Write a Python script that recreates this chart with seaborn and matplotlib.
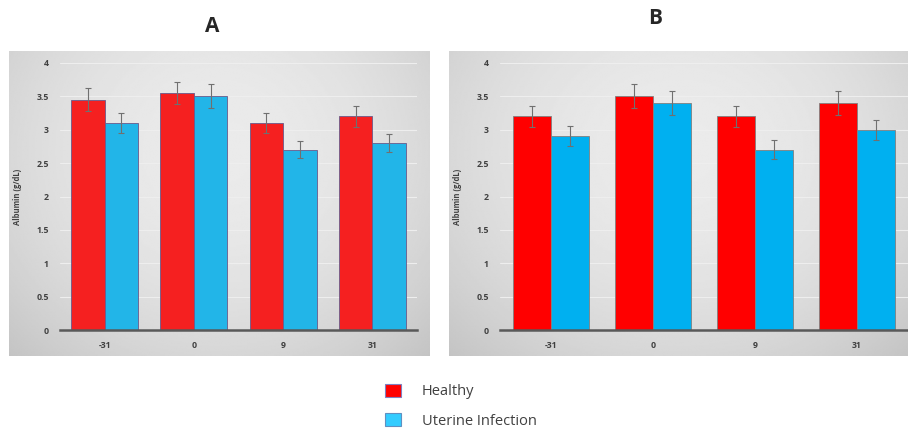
import pandas as pd
import matplotlib.pyplot as plt
import numpy as np
import seaborn as sns
from matplotlib.patches import Patch

days = ['-31', '0', '9', '31']
groups = ['Healthy', 'Uterine Infection']

# panel A
a_healthy = [3.45, 3.55, 3.1, 3.2]
a_uterine = [3.1, 3.5, 2.7, 2.8]
a_healthy_err = [0.17, 0.17, 0.15, 0.16]
a_uterine_err = [0.15, 0.18, 0.13, 0.14]

# panel B
b_healthy = [3.2, 3.5, 3.2, 3.4]
b_uterine = [2.9, 3.4, 2.7, 3.0]
b_healthy_err = [0.16, 0.18, 0.16, 0.18]
b_uterine_err = [0.15, 0.18, 0.14, 0.15]

W, H = 908, 430


def frac(x0, y0, x1, y1):
    # pixel box (top-left origin) -> figure fraction
    return [x0 / W, 1 - y1 / H, (x1 - x0) / W, (y1 - y0) / H]


def gradient_bg(fig, box):
    bg = fig.add_axes(frac(*box), zorder=0)
    yy, xx = np.mgrid[-1:1:200j, -1:1:300j]
    r = np.sqrt((xx * 0.9) ** 2 + (yy * 0.7) ** 2)
    # yy = -1 is the top row of the image
    img = 0.915 - 0.09 * r ** 2 - 0.03 * yy
    bg.imshow(img, cmap='gray', vmin=0, vmax=1, aspect='auto', extent=[0, 1, 0, 1])
    bg.set_axis_off()


def panel(fig, box, healthy, uterine, h_err, u_err, colors, edge):
    df = pd.DataFrame({
        'day': days * 2,
        'group': [groups[0]] * 4 + [groups[1]] * 4,
        'value': healthy + uterine,
    })
    ax = fig.add_axes(frac(*box), zorder=1)
    ax.patch.set_alpha(0)
    ax.yaxis.grid(True, color='#eeeeee', linewidth=0.8)
    ax.set_axisbelow(True)
    sns.barplot(data=df, x='day', y='value', hue='group', order=days,
                hue_order=groups, palette=colors, width=0.75, errorbar=None,
                edgecolor=edge, linewidth=0.6, saturation=1, legend=False, ax=ax)
    for cont, errs in zip(ax.containers, [h_err, u_err]):
        xs = [b.get_x() + b.get_width() / 2 for b in cont]
        ys = [b.get_height() for b in cont]
        ax.errorbar(xs, ys, yerr=errs, fmt='none', ecolor='#707070',
                    elinewidth=0.8, capsize=2.5, capthick=0.8)
    ax.set_ylim(0, 4)
    ax.set_xlim(-0.5, 3.5)
    ax.set_yticks(np.arange(0, 4.01, 0.5))
    ax.set_yticklabels(['0', '0.5', '1', '1.5', '2', '2.5', '3', '3.5', '4'])
    ax.tick_params(length=0, labelsize=6.3, labelcolor='#404040', pad=8)
    for lab in ax.get_xticklabels() + ax.get_yticklabels():
        lab.set_fontweight('bold')
    ax.set_xlabel('')
    ax.set_ylabel('Albumin (g/dL)', fontsize=5.5, fontweight='bold',
                  color='#404040', labelpad=10)
    for s in ['top', 'right', 'left']:
        ax.spines[s].set_visible(False)
    ax.spines['bottom'].set_color('#595959')
    ax.spines['bottom'].set_linewidth(1.8)
    return ax


sns.set_style('white')
plt.rcParams['font.family'] = ['Open Sans', 'DejaVu Sans']

fig = plt.figure(figsize=(W / 100, H / 100), dpi=100)

gradient_bg(fig, (9, 51, 430, 356))
gradient_bg(fig, (449, 51, 910, 356))

panel(fig, (60, 63, 417, 330), a_healthy, a_uterine, a_healthy_err,
      a_uterine_err, ['#F52020', '#22B5E8'], '#6a5a8a')
panel(fig, (500, 63, 908, 330), b_healthy, b_uterine, b_healthy_err,
      b_uterine_err, ['#FF0000', '#00B0F0'], '#808080')

fig.text(212 / W, 1 - 27 / H, 'A', ha='center', va='center',
         fontsize=15, fontweight='bold', family=['Open Sans', 'DejaVu Sans'])
fig.text(655 / W, 1 - 18 / H, 'B', ha='center', va='center',
         fontsize=15, fontweight='bold', family=['Open Sans', 'DejaVu Sans'])

handles = [Patch(facecolor='#FF0000', edgecolor='#8080c0', linewidth=0.8),
           Patch(facecolor='#33CCFF', edgecolor='#6090c0', linewidth=0.8)]
fig.legend(handles, groups, loc='upper left', bbox_to_anchor=(372 / W, 1 - 371 / H),
           frameon=False, fontsize=10.5, handlelength=1.1, handleheight=0.95,
           handletextpad=1.4, labelspacing=0.95, labelcolor='#404040')

fig.savefig('out.png', dpi=100)
